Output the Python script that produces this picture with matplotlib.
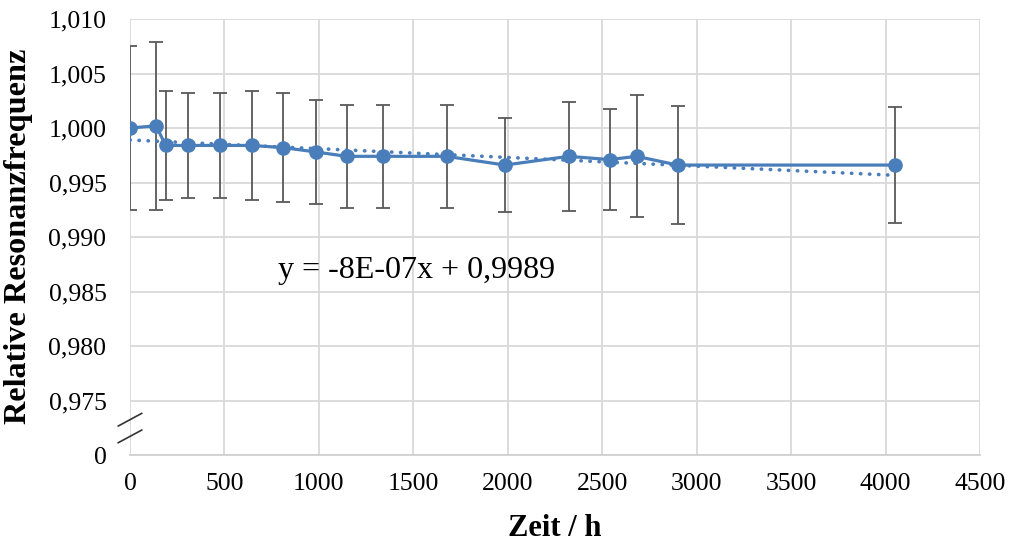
import numpy as np
import matplotlib.pyplot as plt
from matplotlib.ticker import FixedLocator

# data
zeit = [0, 138, 189, 307, 476, 644, 812, 985, 1147, 1337, 1676, 1985,
        2322, 2539, 2682, 2899, 4050]
freq = [1.0000, 1.0002, 0.9984, 0.9984, 0.9984, 0.9984, 0.9982, 0.9978,
        0.9974, 0.9974, 0.9974, 0.9966, 0.9974, 0.9971, 0.9974, 0.9966, 0.9966]
fehler = [0.0075, 0.0077, 0.0050, 0.0048, 0.0048, 0.0050, 0.0050, 0.0048,
          0.0047, 0.0047, 0.0047, 0.0043, 0.0050, 0.0046, 0.0056, 0.0054, 0.0053]
slope = -8e-07
intercept = 0.9989

x_ticks = [0, 500, 1000, 1500, 2000, 2500, 3000, 3500, 4000, 4500]
y_ticks = [0.970, 0.975, 0.980, 0.985, 0.990, 0.995, 1.000, 1.005, 1.010]
y_labels = ['0', '0,975', '0,980', '0,985', '0,990', '0,995', '1,000', '1,005', '1,010']

plt.rcParams['font.family'] = ['Liberation Serif', 'DejaVu Serif']

blue = '#4a7ebb'
grey = '#595959'

fig = plt.figure(figsize=(10.1, 5.44), dpi=100)
ax = fig.add_axes([130 / 1010, 1 - 455 / 544, 850 / 1010, 436 / 544])

ax.errorbar(zeit, freq, yerr=fehler, fmt='none', ecolor=grey, elinewidth=1.3,
            capsize=5, capthick=1.3, zorder=3)
ax.plot(zeit, freq, color=blue, lw=2.3, zorder=4)
ax.plot(zeit, freq, 'o', color=blue, ms=9.5, zorder=6)

tx = np.array([zeit[0], zeit[-1]])
ax.plot(tx, slope * tx + intercept, color=blue, lw=2.6,
        linestyle=(0, (0.1, 2.4)), dash_capstyle='round', zorder=5)

ax.text(783, 0.98697, 'y = -8E-07x + 0,9989', fontsize=23, va='center', ha='left')

ax.set_xlim(0, 4500)
ax.set_ylim(0.970, 1.010)
ax.xaxis.set_major_locator(FixedLocator(x_ticks))
ax.set_xticklabels([str(t) for t in x_ticks])
ax.yaxis.set_major_locator(FixedLocator(y_ticks))
ax.set_yticklabels(y_labels)
ax.tick_params(axis='x', length=0, pad=13, labelsize=18.5)
ax.tick_params(axis='y', length=0, pad=17, labelsize=18.5)
ax.grid(True, color='#d9d9d9', lw=1.3, zorder=0)
ax.set_axisbelow(True)
for s in ['top', 'right', 'left']:
    ax.spines[s].set_visible(False)
ax.spines['bottom'].set_color('#d0d0d0')
ax.spines['bottom'].set_linewidth(1.3)

# axis break marks
for y0 in (0.0665, 0.0282):
    ax.plot([-0.0138, 0.0138], [y0, y0 + 0.029], transform=ax.transAxes,
            color='#333333', lw=1.2, clip_on=False)

ax.set_xlabel('Zeit / h', fontsize=22, fontweight='bold', labelpad=14)
fig.text(19 / 1010, 1 - 236 / 544, 'Relative Resonanzfrequenz', fontsize=23.2,
         fontweight='bold', rotation=90, ha='center', va='center')

fig.savefig('out.png', dpi=100)
